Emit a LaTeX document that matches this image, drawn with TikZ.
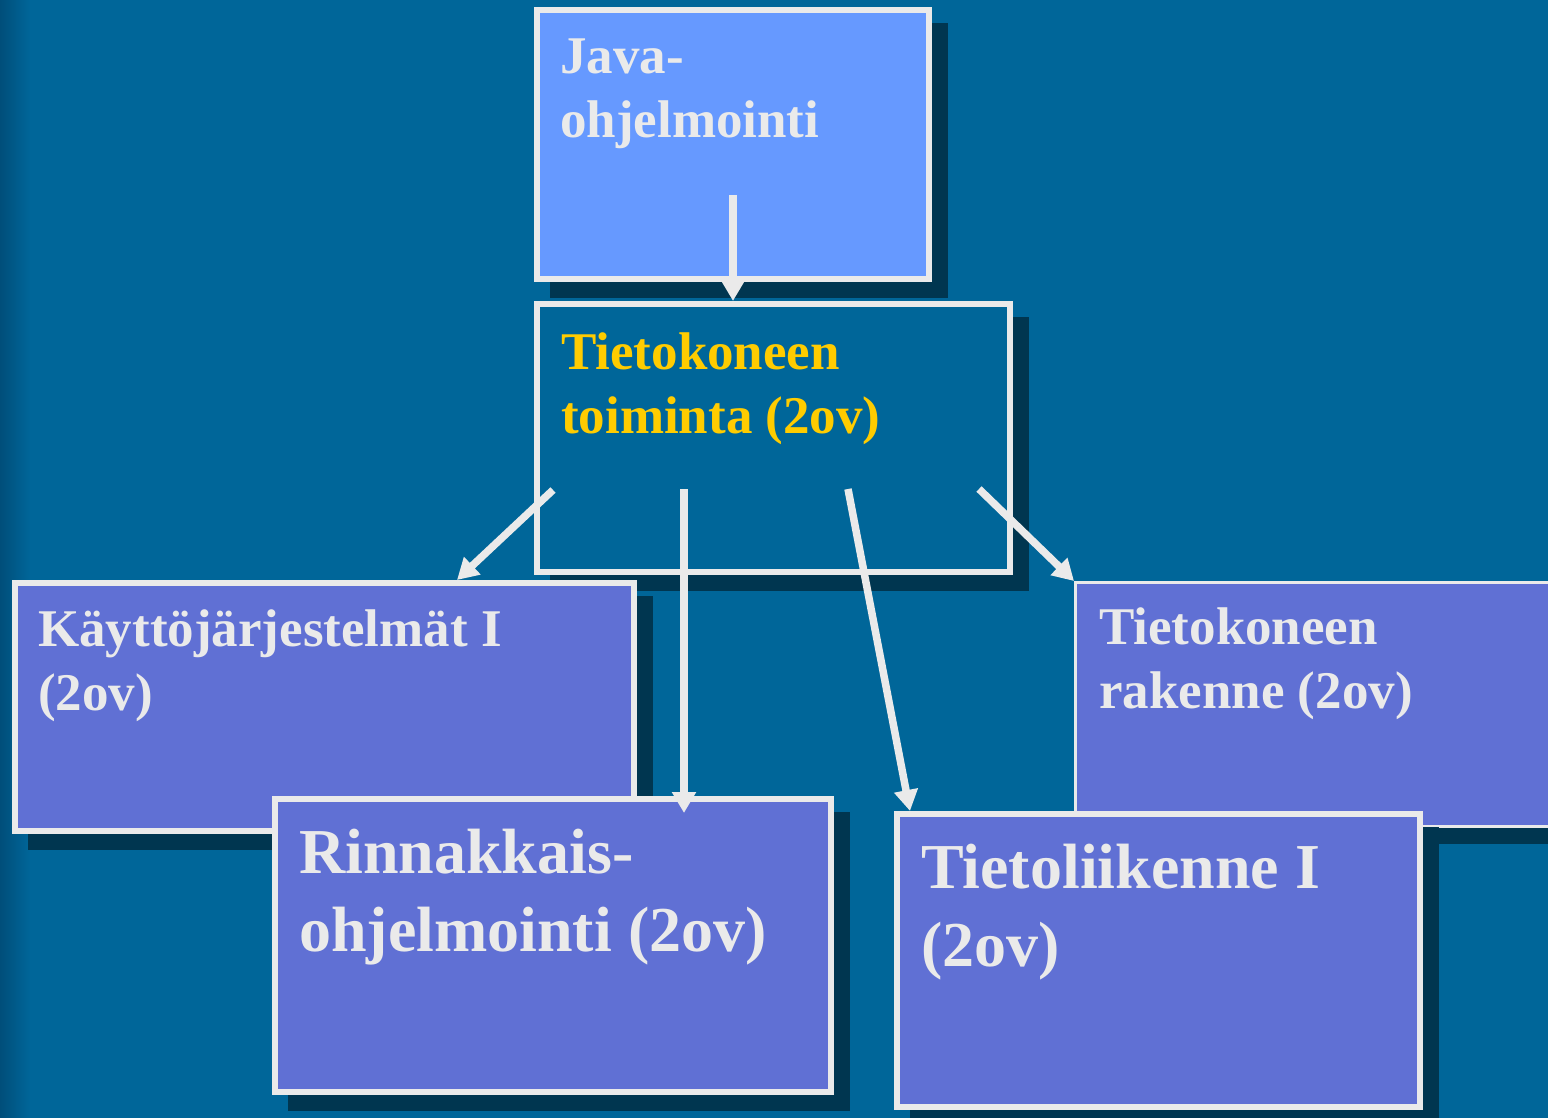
\documentclass[tikz,border=0pt]{standalone}
\usepackage{fontspec}
\setmainfont{Liberation Serif}
\usetikzlibrary{arrows.meta,calc}
\definecolor{bgc}{RGB}{0,102,153}
\definecolor{bgdark}{RGB}{0,78,122}
\definecolor{shadowc}{RGB}{0,54,80}
\definecolor{javafill}{RGB}{102,153,255}
\definecolor{boxfill}{RGB}{96,112,212}
\definecolor{borderc}{RGB}{234,234,234}
\definecolor{yellowc}{RGB}{255,204,0}
\begin{document}
\begin{tikzpicture}[x=1pt,y=-1pt,
  box/.style={draw=borderc, line width=6pt, inner sep=0pt, anchor=north west,
    preaction={draw=shadowc, fill=shadowc, transform canvas={xshift=16pt,yshift=-16pt}}},
  lbl/.style={text=borderc, font=\bfseries\fontsize{53}{64}\selectfont, align=left, anchor=base west, inner sep=0pt},
  biglbl/.style={font=\bfseries\fontsize{64}{78}\selectfont},
  arr/.style={draw=borderc, line width=7.5pt, -{Triangle[width=23pt,length=21pt]}}]
\useasboundingbox (0,0) rectangle (1548,1118);
\fill[bgc] (0,0) rectangle (1548,1118);
\shade[left color=bgdark, right color=bgc] (0,0) rectangle (30,1118);

% boxes (label nodes are anchored at the baseline of their last line)
\node[box, fill=javafill, minimum width=392pt, minimum height=269pt] (java) at (534,7) {};
\node[lbl] (javat) at (560,138) {Java-\\ohjelmointi};

\node[box, fill=bgc, minimum width=473pt, minimum height=268pt] (toim) at (534,301) {};
\node[lbl, text=yellowc] (toimt) at (561,433) {Tietokoneen\\toiminta (2ov)};

\node[box, fill=boxfill, minimum width=619pt, minimum height=248pt] (kay) at (12,580) {};
\node[lbl] (kayt) at (38,710) {Käyttöjärjestelmät I\\(2ov)};

\node[box, line width=3pt, fill=boxfill, minimum width=520pt, minimum height=244pt] (rak) at (1074,581) {};
\node[lbl] (rakt) at (1099,708) {Tietokoneen\\rakenne (2ov)};

\node[box, fill=boxfill, minimum width=556pt, minimum height=293pt] (rin) at (272,796) {};
\node[lbl, biglbl] (rint) at (299,951) {Rinnakkais-\\ohjelmointi (2ov)};

\node[box, fill=boxfill, minimum width=523pt, minimum height=293pt] (tiet) at (894,811) {};
\node[lbl, biglbl] (tiett) at (921,966) {Tietoliikenne I\\(2ov)};

% connectors
\coordinate (s1) at (733,195);
\coordinate (s2) at (553,490);
\coordinate (s3) at (684,489);
\coordinate (s4) at (848,489);
\coordinate (s5) at (979,489);
\coordinate (e2) at ([xshift=445pt]kay.north west);
\coordinate (e3) at ($(s3 |- rin.north)+(0,17)$);
\coordinate (e4) at ([xshift=16pt]tiet.north west);
\draw[arr] (s1) -- (s1 |- toim.north);
\draw[arr] (s2) -- (e2);
\draw[arr] (s3) -- (e3);
\draw[arr] (s4) -- (e4);
\draw[arr] (s5) -- (rak.north west);
\end{tikzpicture}
\end{document}
